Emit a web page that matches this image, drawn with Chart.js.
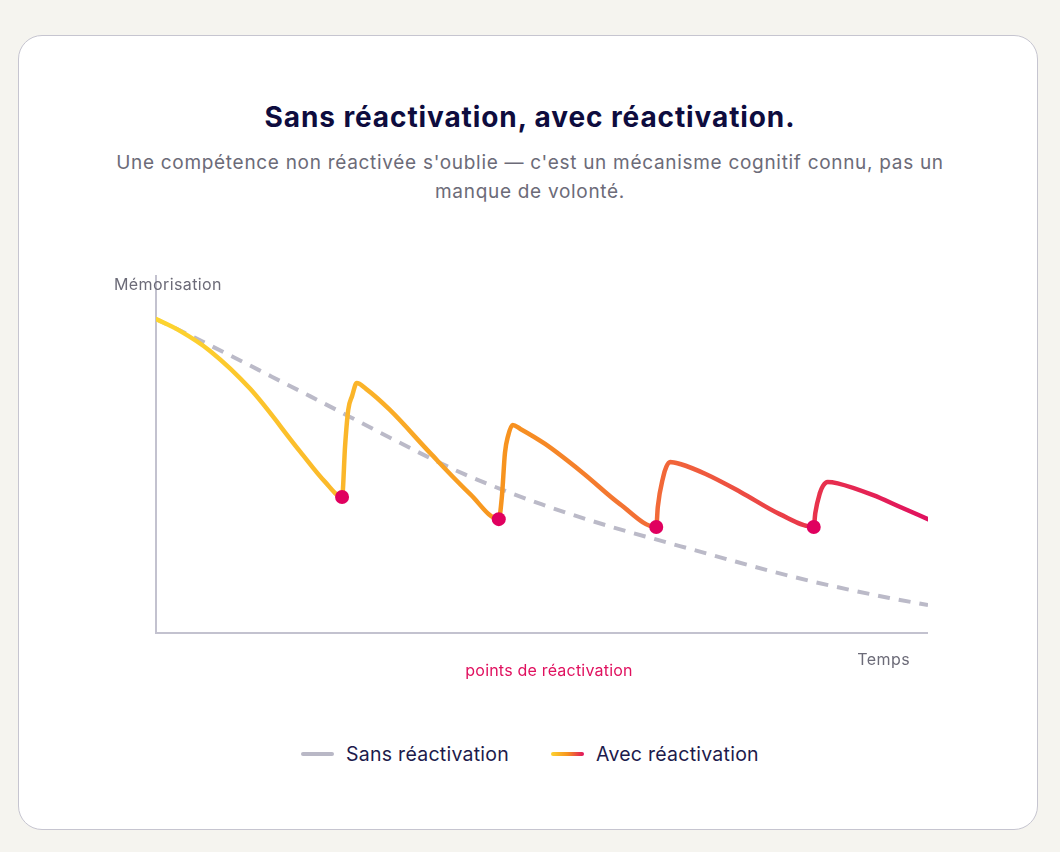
<!DOCTYPE html>
<html lang="fr">
<head>
<meta charset="utf-8">
<script src="https://cdn.jsdelivr.net/npm/chart.js@4.4.1/dist/chart.umd.min.js"></script>
<style>
  html, body { margin:0; padding:0; }
  body { width:1060px; height:852px; background:#f5f4ef; position:relative; overflow:hidden;
         font-family: Inter, "Open Sans", sans-serif; }
  .card { position:absolute; left:18px; top:35px; width:1018px; height:793px; background:#fff;
          border:1px solid #c6c5d0; border-radius:24px; }
  h1 { position:absolute; left:0; top:100px; width:1060px; margin:0; text-align:center;
       font-size:28px; font-weight:700; color:#0e0c3e; letter-spacing:0.9px; }
  .sub { position:absolute; left:100px; top:148px; width:860px; margin:0; text-align:center;
         font-size:19px; line-height:29px; color:#6c6b78; letter-spacing:0.7px; }
  .wrap { position:absolute; left:0; top:250px; width:1060px; height:450px; }
  .legend { position:absolute; left:0; top:742px; width:1060px; display:flex; justify-content:center;
            align-items:center; gap:42px; font-size:19.5px; color:#1d1b4c; letter-spacing:0.25px; }
  .item { display:flex; align-items:center; gap:12px; }
  .sw { width:33px; height:4px; border-radius:2px; }
</style>
</head>
<body>
<div class="card"></div>
<h1>Sans réactivation, avec réactivation.</h1>
<p class="sub">Une compétence non réactivée s'oublie — c'est un mécanisme cognitif connu, pas un manque de volonté.</p>
<div class="wrap"><canvas id="c"></canvas></div>
<div class="legend">
  <div class="item"><span class="sw" style="background:#b9b8c6"></span><span>Sans réactivation</span></div>
  <div class="item"><span class="sw" style="background:linear-gradient(90deg,#fdd32f,#f7941f,#e0115f)"></span><span>Avec réactivation</span></div>
</div>
<script>
// Courbe sans réactivation (temps 0-100, mémorisation 0-100)
const sansTemps  = [0, 5, 10, 15, 20, 25, 30, 35, 40, 45, 50, 55, 60, 65, 70, 75, 80, 85, 90, 95, 100];
const sansValeur = [87.7, 82.5, 77.1, 71.6, 66.1, 60.5, 54.9, 49.4, 44.3, 39.9, 35.9, 32.3, 29.0, 26.0, 23.0, 20.0, 17.1, 14.4, 12.0, 9.8, 7.8];

// Courbe avec réactivation
const avecTemps  = [0, 3.1, 7.0, 12.2, 18.7, 21.9, 24.1,
                    24.5, 24.9, 25.4, 26.0,
                    27.2, 30.3, 35.5, 40.7, 44.4,
                    44.8, 45.2, 45.6, 46.2,
                    47.2, 50.4, 55.3, 60.1, 64.8,
                    65.0, 65.7, 66.1, 66.6,
                    67.9, 71.2, 75.7, 80.8, 85.2,
                    85.4, 86.0, 86.4, 87.0,
                    88.3, 92.9, 96.4, 100];
const avecValeur = [87.7, 84.4, 78.8, 68.2, 50.6, 42.2, 38.0,
                    52.5, 62.3, 66.2, 69.8,
                    68.2, 62.3, 50.3, 38.8, 31.8,
                    38.0, 50.3, 55.0, 58.1,
                    57.0, 52.8, 44.7, 36.0, 29.6,
                    35.2, 43.6, 46.4, 47.8,
                    47.2, 44.4, 39.4, 33.2, 29.6,
                    33.5, 39.1, 41.1, 42.2,
                    41.8, 38.5, 35.2, 31.8];

// Points de réactivation
const reactTemps  = [24.1, 44.4, 64.8, 85.2];
const reactValeur = [38.0, 31.8, 29.6, 29.6];

const labelY = "Mémorisation";
const labelX = "Temps";
const labelPoints = "points de réactivation";

const toXY = (xs, ys) => xs.map((x, i) => ({ x: x, y: ys[i] }));

function lineGradient(ctx, area) {
  const g = ctx.createLinearGradient(area.left, 0, area.right, 0);
  g.addColorStop(0, '#fdd52f');
  g.addColorStop(0.25, '#fbb62a');
  g.addColorStop(0.45, '#f7941f');
  g.addColorStop(0.65, '#f26a38');
  g.addColorStop(0.85, '#e8344b');
  g.addColorStop(1, '#e0115f');
  return g;
}

const decor = {
  id: 'decor',
  beforeDatasetsDraw(chart) {
    const { ctx, chartArea: a } = chart;
    ctx.save();
    ctx.strokeStyle = '#c3c2cf';
    ctx.lineWidth = 2;
    ctx.beginPath();
    ctx.moveTo(a.left, a.top);
    ctx.lineTo(a.left, a.bottom);
    ctx.lineTo(a.right, a.bottom);
    ctx.stroke();
    ctx.font = '16px Inter, "Open Sans", sans-serif';
    if ('letterSpacing' in ctx) ctx.letterSpacing = '0.4px';
    ctx.textBaseline = 'middle';
    ctx.fillStyle = '#6c6b78';
    ctx.textAlign = 'left';
    ctx.fillText(labelY, a.left - 42, a.top + 10);
    ctx.textAlign = 'right';
    ctx.fillText(labelX, a.right - 18, a.bottom + 27);
    if ('letterSpacing' in ctx) ctx.letterSpacing = '0.2px';
    ctx.fillStyle = '#e0115f';
    ctx.textAlign = 'center';
    ctx.fillText(labelPoints, (a.left + a.right) / 2 + 7, a.bottom + 38);
    ctx.restore();
  }
};

new Chart(document.getElementById('c'), {
  type: 'line',
  data: {
    datasets: [
      {
        label: 'Points de réactivation',
        type: 'scatter',
        data: toXY(reactTemps, reactValeur),
        showLine: false,
        pointRadius: 7,
        pointHoverRadius: 7,
        pointBackgroundColor: '#e0005f',
        pointBorderWidth: 0,
        order: 0
      },
      {
        label: 'Avec réactivation',
        data: toXY(avecTemps, avecValeur),
        borderColor: (c) => c.chart.chartArea ? lineGradient(c.chart.ctx, c.chart.chartArea) : '#f7941f',
        borderWidth: 4.5,
        pointRadius: 0,
        cubicInterpolationMode: 'monotone',
        borderCapStyle: 'round',
        borderJoinStyle: 'round',
        fill: false,
        order: 1
      },
      {
        label: 'Sans réactivation',
        data: toXY(sansTemps, sansValeur),
        borderColor: '#bbbac8',
        borderWidth: 4,
        borderDash: [12, 9],
        pointRadius: 0,
        cubicInterpolationMode: 'monotone',
        fill: false,
        order: 2
      }
    ]
  },
  options: {
    responsive: true,
    maintainAspectRatio: false,
    animation: false,
    layout: { padding: { left: 156, right: 132, top: 25, bottom: 67 } },
    scales: {
      x: { type: 'linear', min: 0, max: 100, display: false },
      y: { type: 'linear', min: 0, max: 100, display: false }
    },
    plugins: {
      legend: { display: false },
      tooltip: { enabled: false }
    }
  },
  plugins: [decor]
});
</script>
</body>
</html>
